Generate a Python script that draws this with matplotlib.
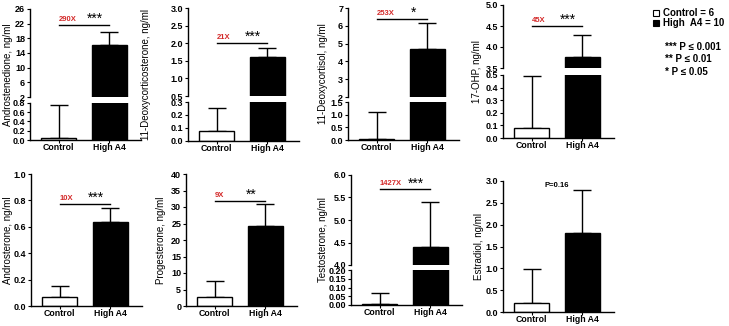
import matplotlib.pyplot as plt
from matplotlib.patches import Rectangle

plt.rcParams["font.family"] = ["Liberation Sans", "DejaVu Sans"]

W, H = 729, 326

GROUPS = ["Control", "High A4"]
HORMONES = [
    "Androstenedione, ng/ml",
    "11-Deoxycorticosterone, ng/ml",
    "11-Deoxycortisol, ng/ml",
    "17-OHP, ng/ml",
    "Androsterone, ng/ml",
    "Progesterone, ng/ml",
    "Testosterone, ng/ml",
    "Estradiol, ng/ml",
]
MEAN_CONTROL = [0.05, 0.077, 0.02, 0.08, 0.066, 2.8, 0.003, 0.21]
SEM_CONTROL = [0.70, 0.175, 1.10, 0.41, 0.084, 4.9, 0.067, 0.78]
MEAN_HIGH = [16.3, 1.62, 4.70, 3.76, 0.64, 24.3, 4.41, 1.82]
SEM_HIGH = [3.5, 0.23, 1.45, 0.53, 0.10, 6.5, 0.99, 0.98]

FOLD_LABELS = ["290X", "21X", "253X", "45X", "10X", "9X", "1427X", None]
SIG_LABELS = ["***", "***", "*", "***", "***", "**", "***", None]
SIG_LINE_Y = [21.6, 2.01, 6.38, 4.5, 0.775, 31.8, 5.68, None]
P_TEXT = [None, None, None, None, None, None, None, "P=0.16"]
P_TEXT_Y = [None, None, None, None, None, None, None, 2.9]

# y tick labels for the lower (or only) axis and the upper part of broken axes
LOWER_TICKS = [
    ["0.0", "0.2", "0.4", "0.6", "0.8"],
    ["0.0", "0.1", "0.2", "0.3"],
    ["0.0", "0.5", "1.0", "1.5"],
    ["0.0", "0.1", "0.2", "0.3", "0.4", "0.5"],
    ["0.0", "0.2", "0.4", "0.6", "0.8", "1.0"],
    ["0", "5", "10", "15", "20", "25", "30", "35", "40"],
    ["0.00", "0.05", "0.10", "0.15", "0.20"],
    ["0.0", "0.5", "1.0", "1.5", "2.0", "2.5", "3.0"],
]
UPPER_TICKS = [
    ["2", "6", "10", "14", "18", "22", "26"],
    ["0.5", "1.0", "1.5", "2.0", "2.5", "3.0"],
    ["2", "3", "4", "5", "6", "7"],
    ["3.5", "4.0", "4.5", "5.0"],
    None,
    None,
    ["4.0", "4.5", "5.0", "5.5", "6.0"],
    None,
]

# layout in pixels: left, (upper top, upper bottom) or None, (lower top, lower bottom), ylabel x
LAYOUT = [
    (30, (9, 97), (103, 140), 8),
    (188, (8, 96), (102, 140.5), 146),
    (348, (8, 97), (102, 140), 323),
    (503, (5, 68), (75, 138), 477),
    (31, None, (174, 306), 8),
    (186, None, (174, 306), 161),
    (351, (175, 265), (270, 305), 323),
    (503, None, (181, 312), 479),
]
XLIM = (-0.57, 1.63)
AX_W = 111
RED = "#d42a2a"


def px_axes(fig, left, top, bottom):
    return fig.add_axes([left / W, 1 - bottom / H, AX_W / W, (bottom - top) / H])


def draw_bars(ax, i):
    x = [0, 1]
    ax.bar(x, [MEAN_CONTROL[i], MEAN_HIGH[i]], width=0.7,
           color=["white", "black"], edgecolor="black", linewidth=1.0, zorder=2)
    ax.errorbar(x, [MEAN_CONTROL[i], MEAN_HIGH[i]],
                yerr=[[0, 0], [SEM_CONTROL[i], SEM_HIGH[i]]],
                fmt="none", ecolor="black", elinewidth=1.0, capsize=6.5, capthick=1.0, zorder=1)
    ax.set_xlim(*XLIM)


def style_y(ax, labels):
    vals = [float(v) for v in labels]
    ax.set_yticks(vals)
    ax.set_yticklabels(labels, fontweight="bold", fontsize=6.5)
    ax.set_ylim(vals[0], vals[-1])
    ax.tick_params(axis="y", length=2.5, width=0.8, pad=1)
    ax.spines["left"].set_linewidth(1.0)
    ax.spines["top"].set_visible(False)
    ax.spines["right"].set_visible(False)


fig = plt.figure(figsize=(W / 100, H / 100), dpi=100)

for i, (left, upper, lower, ylab_x) in enumerate(LAYOUT):
    ax_lo = px_axes(fig, left, lower[0], lower[1])
    draw_bars(ax_lo, i)
    style_y(ax_lo, LOWER_TICKS[i])
    ax_lo.spines["bottom"].set_linewidth(1.0)
    ax_lo.set_xticks([0, 1])
    ax_lo.set_xticklabels(GROUPS, fontweight="bold", fontsize=6.3)
    ax_lo.tick_params(axis="x", length=2, width=0.8, pad=0.5)

    if upper is not None:
        ax_up = px_axes(fig, left, upper[0], upper[1])
        draw_bars(ax_up, i)
        style_y(ax_up, UPPER_TICKS[i])
        ax_up.spines["bottom"].set_visible(False)
        ax_up.set_xticks([])
        top_ax, top_px = ax_up, upper[0]
    else:
        top_ax, top_px = ax_lo, lower[0]

    fig.text(ylab_x / W, 1 - (top_px + lower[1]) / 2 / H, HORMONES[i],
             rotation=90, ha="center", va="center", fontsize=7)

    if SIG_LINE_Y[i] is not None:
        y = SIG_LINE_Y[i]
        top_ax.plot([0, 1], [y, y], color="black", lw=1.0, clip_on=False)
        top_ax.annotate(FOLD_LABELS[i], (0.0, y), xytext=(0, 1.5), textcoords="offset points",
                        ha="left", va="bottom", color=RED, fontsize=5.5, fontweight="bold")
        top_ax.annotate(SIG_LABELS[i], (0.72, y), xytext=(0, 1.5), textcoords="offset points",
                        ha="center", va="baseline", fontsize=10)
    if P_TEXT[i] is not None:
        top_ax.text(0.5, P_TEXT_Y[i], P_TEXT[i], ha="center", va="center",
                    fontsize=5.5, fontweight="bold")

# legend
fig.patches.append(Rectangle((653 / W, 1 - 16 / H), 6 / W, 6 / H, transform=fig.transFigure,
                             facecolor="white", edgecolor="black", linewidth=0.8))
fig.patches.append(Rectangle((653 / W, 1 - 26 / H), 6 / W, 6 / H, transform=fig.transFigure,
                             facecolor="black", edgecolor="black", linewidth=0.8))
fig.text(663 / W, 1 - 13 / H, "Control = 6", ha="left", va="center", fontsize=7, fontweight="bold")
fig.text(663 / W, 1 - 23 / H, "High  A4 = 10", ha="left", va="center", fontsize=7, fontweight="bold")
for k, txt in enumerate(["*** P \u2264 0.001", "** P \u2264 0.01", "* P \u2264 0.05"]):
    fig.text(665 / W, 1 - (47 + 12.5 * k) / H, txt, ha="left", va="center",
             fontsize=7, fontweight="bold")

fig.savefig("out.png", dpi=100)
